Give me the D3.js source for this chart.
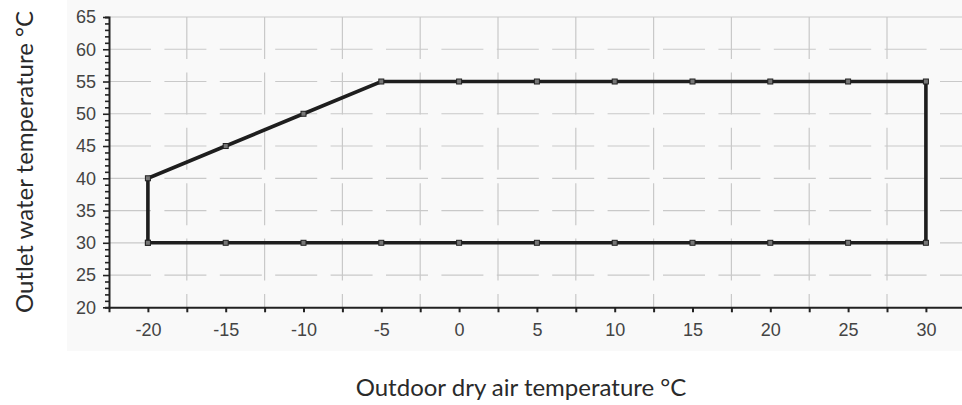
<!DOCTYPE html>
<html><head><meta charset="utf-8">
<script src="https://cdn.jsdelivr.net/npm/d3@7"></script>
<style>
html,body{margin:0;padding:0;background:#fff;}
svg{display:block;}
</style></head>
<body>
<script>
// Data
const outdoorTemps = [-20, -20, -15, -10, -5, 0, 5, 10, 15, 20, 25, 30, 30, 25, 20, 15, 10, 5, 0, -5, -10, -15, -20];
const outletTemps  = [30, 40, 45, 50, 55, 55, 55, 55, 55, 55, 55, 55, 30, 30, 30, 30, 30, 30, 30, 30, 30, 30, 30];
const xTickLabels = [-20, -15, -10, -5, 0, 5, 10, 15, 20, 25, 30];
const yTickLabels = [20, 25, 30, 35, 40, 45, 50, 55, 60, 65];
const xTitle = "Outdoor dry air temperature °C";
const yTitle = "Outlet water temperature °C";

const W = 962, H = 405;
const svg = d3.select("body").append("svg").attr("width", W).attr("height", H);

const x = d3.scaleLinear().domain([-22.5, 32.5]).range([109, 964.8]);
const y = d3.scaleLinear().domain([20, 65]).range([307.3, 17]);

// plot background
svg.append("rect").attr("x", 67).attr("y", 0).attr("width", W - 67).attr("height", 351)
  .attr("fill", "#f9f9f9");

const grid = svg.append("g");
grid.selectAll("line.h").data(d3.range(25, 61, 5)).join("line")
  .attr("x1", x(-22.5)).attr("x2", W)
  .attr("y1", d => y(d)).attr("y2", d => y(d))
  .attr("stroke", "#c9c9c9").attr("stroke-width", 1.2)
  .attr("stroke-dasharray", "42,13.4");
grid.append("line")
  .attr("x1", x(-22.5)).attr("x2", W).attr("y1", y(65)).attr("y2", y(65))
  .attr("stroke", "#c9c9c9").attr("stroke-width", 1.2);
grid.selectAll("line.v").data(d3.range(-17.5, 30, 5)).join("line")
  .attr("x1", d => x(d)).attr("x2", d => x(d))
  .attr("y1", y(65)).attr("y2", y(20))
  .attr("stroke", "#c9c9c9").attr("stroke-width", 1.2)
  .attr("stroke-dasharray", "42,13.4");

// axes
const xAxis = d3.axisBottom(x).tickValues(d3.range(-20, 32.5, 2.5)).tickSize(5)
  .tickFormat(d => xTickLabels.includes(d) ? d : "");
const gx = svg.append("g").attr("transform", `translate(0,${y(20)})`).call(xAxis);
gx.attr("font-size", null).attr("font-family", null);
gx.select(".domain").attr("stroke", "#222").attr("stroke-width", 2);
gx.selectAll(".tick line").attr("stroke", "#222").attr("stroke-width", 2);
gx.selectAll(".tick text").style("font-family", "'Liberation Sans', Arial, sans-serif")
  .style("font-size", "18px").attr("fill", "#444").attr("y", 13).attr("dy", "0.9em");

const yAxis = d3.axisLeft(y).tickValues(d3.range(20, 66, 1)).tickSize(4)
  .tickFormat(d => yTickLabels.includes(d) ? d : "");
const gy = svg.append("g").attr("transform", `translate(${x(-22.5)},0)`).call(yAxis);
gy.attr("font-size", null).attr("font-family", null);
gy.select(".domain").attr("stroke", "#222").attr("stroke-width", 2);
gy.selectAll(".tick line").attr("stroke", "#222").attr("stroke-width", 1.6)
  .attr("x2", d => yTickLabels.includes(d) ? -6 : -4);
gy.selectAll(".tick text").style("font-family", "'Liberation Sans', Arial, sans-serif")
  .style("font-size", "18px").attr("fill", "#444").attr("x", -13);

// polygon line
const pts = outdoorTemps.map((d, i) => [d, outletTemps[i]]);
const line = d3.line().x(d => x(d[0])).y(d => y(d[1]));
svg.append("path").datum(pts).attr("d", line)
  .attr("fill", "none").attr("stroke", "#1e1e1e").attr("stroke-width", 3.6)
  .attr("stroke-linejoin", "miter");

svg.selectAll("rect.mk").data(pts).join("rect").attr("class", "mk")
  .attr("x", d => x(d[0]) - 2.5).attr("y", d => y(d[1]) - 2.5)
  .attr("width", 5).attr("height", 5)
  .attr("fill", "#777").attr("stroke", "#222").attr("stroke-width", 1);

// titles
svg.append("text").text(xTitle)
  .attr("x", 521).attr("y", 396).attr("text-anchor", "middle")
  .style("font-family", "Lato, 'Open Sans', sans-serif").style("font-size", "24px").attr("fill", "#2a2a2a");
svg.append("text").text(yTitle)
  .attr("transform", "translate(33,162) rotate(-90)").attr("text-anchor", "middle")
  .style("font-family", "Lato, 'Open Sans', sans-serif").style("font-size", "24px").attr("fill", "#2a2a2a");
</script>
</body></html>
